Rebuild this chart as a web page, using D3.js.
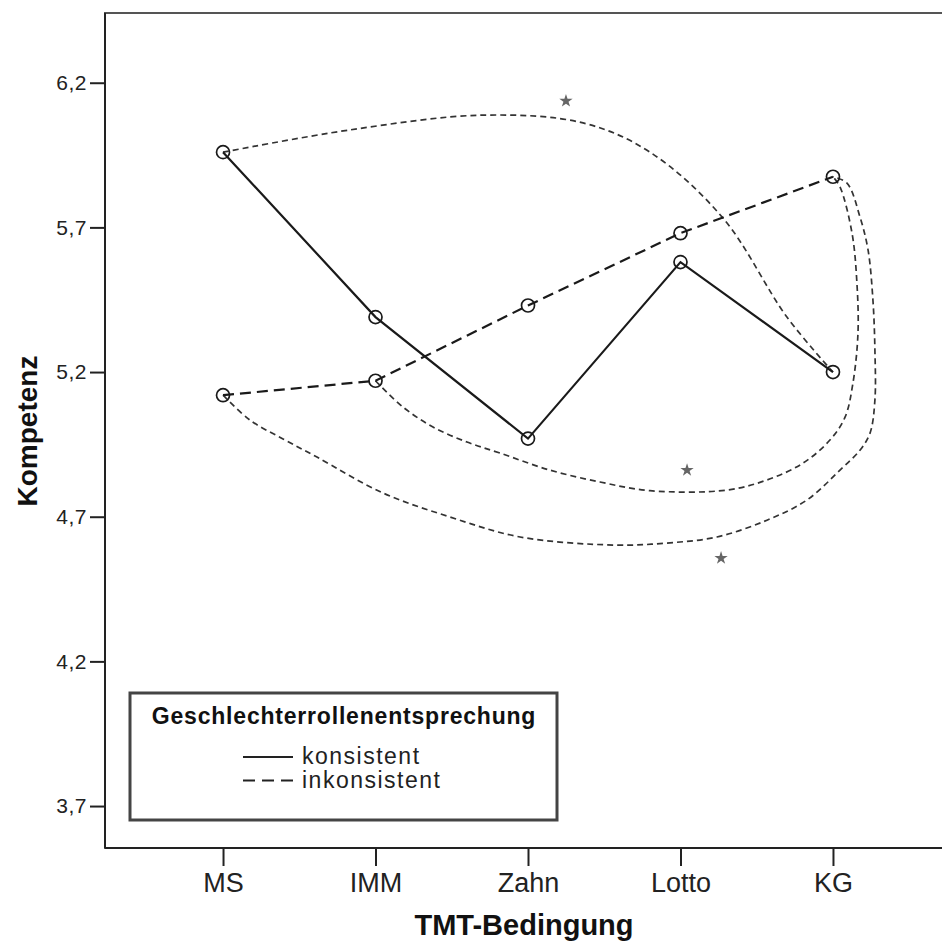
<!DOCTYPE html>
<html><head><meta charset="utf-8">
<script src="https://cdn.jsdelivr.net/npm/d3@7"></script>
<style>
html,body{margin:0;padding:0;background:#fff;}
text{font-family:"Liberation Sans",Arial,sans-serif;}
</style></head>
<body>
<svg id="chart" width="942" height="945"></svg>
<script>
// ---- data ----
const categories = ["MS", "IMM", "Zahn", "Lotto", "KG"];
const konsistent = [5.96, 5.39, 4.97, 5.58, 5.20];
const inkonsistent = [5.12, 5.17, 5.43, 5.68, 5.875];
const yTicks = [3.7, 4.2, 4.7, 5.2, 5.7, 6.2];
const seriesNames = ["konsistent", "inkonsistent"];
const legendTitle = "Geschlechterrollenentsprechung";
const xTitle = "TMT-Bedingung";
const yTitle = "Kompetenz";
// annotation curves: [category index, value]
const arcTop = [[0.833, 6.037], [1.705, 6.088], [2.361, 6.061], [2.800, 5.960], [3.279, 5.732], [3.698, 5.390]];
const arcInner = [[1.180, 5.079], [1.377, 5.010], [1.600, 4.958], [1.816, 4.920], [2.144, 4.861], [2.472, 4.820], [2.800, 4.790], [3.305, 4.792], [3.567, 4.827], [3.803, 4.885], [3.980, 4.965], [4.079, 5.044], [4.131, 5.162], [4.164, 5.335], [4.157, 5.508], [4.125, 5.680], [4.046, 5.840]];
const arcOuter = [[0.177, 5.034], [0.400, 4.967], [0.616, 4.906], [1.049, 4.782], [1.489, 4.699], [1.948, 4.630], [2.570, 4.602], [2.911, 4.609], [3.239, 4.630], [3.567, 4.688], [3.830, 4.758], [4.046, 4.861], [4.177, 4.930], [4.243, 4.989], [4.275, 5.103], [4.275, 5.276], [4.262, 5.449], [4.230, 5.622], [4.177, 5.736], [4.092, 5.853]];
const stars = [[2.249, 6.137], [3.043, 4.861], [3.266, 4.557]];

// ---- layout ----
const svg = d3.select("#chart");
const plot = {left: 105, right: 951, top: 13, bottom: 848};
const x = d3.scalePoint().domain(categories).range([plot.left, plot.right]).padding(0.774);
const y = d3.scaleLinear().domain([3.555, 6.441]).range([plot.bottom, plot.top]);
const xi = i => x(categories[0]) + i * x.step();

// frame
svg.append("rect").attr("x", plot.left).attr("y", plot.top)
  .attr("width", plot.right - plot.left).attr("height", plot.bottom - plot.top)
  .attr("fill", "none").attr("stroke", "#555").attr("stroke-width", 2);

// y axis
const yAxis = svg.append("g").attr("transform", `translate(${plot.left},0)`)
  .call(d3.axisLeft(y).tickValues(yTicks).tickSize(15).tickPadding(3)
    .tickFormat(d => d3.format(".1f")(d).replace(".", ",")));
yAxis.select(".domain").attr("stroke", "#222").attr("stroke-width", 2).attr("d", `M0,${plot.top}V${plot.bottom}`);
yAxis.selectAll(".tick line").attr("stroke", "#222").attr("stroke-width", 2);
yAxis.selectAll(".tick text").attr("font-size", 21).attr("fill", "#222")
  .attr("font-family", "Liberation Sans, Arial, sans-serif").attr("letter-spacing", 0.5);

// x axis
const xAxis = svg.append("g").attr("transform", `translate(0,${plot.bottom})`)
  .call(d3.axisBottom(x).tickSize(18).tickPadding(7));
xAxis.select(".domain").attr("stroke", "#222").attr("stroke-width", 2).attr("d", `M${plot.left},0H${plot.right}`);
xAxis.selectAll(".tick line").attr("stroke", "#222").attr("stroke-width", 2);
xAxis.selectAll(".tick text").attr("font-size", 27).attr("fill", "#222")
  .attr("font-family", "Liberation Sans, Arial, sans-serif");

// axis titles
svg.append("text").attr("x", 524).attr("y", 935).attr("text-anchor", "middle")
  .attr("font-size", 29).attr("font-weight", "bold").attr("fill", "#111").text(xTitle);
svg.append("text").attr("transform", "translate(37,431) rotate(-90)").attr("text-anchor", "middle")
  .attr("font-size", 28).attr("font-weight", "bold").attr("fill", "#111").text(yTitle);

// annotation curves
const curve = d3.line().x(d => xi(d[0])).y(d => y(d[1])).curve(d3.curveCatmullRom.alpha(0.5));
const ann = [
  [[0, konsistent[0]], ...arcTop, [4, konsistent[4]]],
  [[1, inkonsistent[1]], ...arcInner, [4, inkonsistent[4]]],
  [[0, inkonsistent[0]], ...arcOuter, [4, inkonsistent[4]]]
];
svg.append("g").selectAll("path").data(ann).join("path")
  .attr("d", curve).attr("fill", "none").attr("stroke", "#333")
  .attr("stroke-width", 1.7).attr("stroke-dasharray", "6,4");

svg.append("g").selectAll("path").data(stars).join("path")
  .attr("transform", d => `translate(${xi(d[0])},${y(d[1])})`)
  .attr("d", d3.symbol(d3.symbolStar).size(55)).attr("fill", "#666");

// series
const line = d3.line().x((d, i) => x(categories[i])).y(d => y(d));
const series = [
  {name: seriesNames[0], values: konsistent, dash: null},
  {name: seriesNames[1], values: inkonsistent, dash: "11,6"}
];
series.forEach(s => {
  svg.append("path").datum(s.values).attr("d", line).attr("fill", "none")
    .attr("stroke", "#1a1a1a").attr("stroke-width", 2.2)
    .attr("stroke-dasharray", s.dash);
  svg.append("g").selectAll("circle").data(s.values).join("circle")
    .attr("cx", (d, i) => x(categories[i])).attr("cy", d => y(d)).attr("r", 6.5)
    .attr("fill", "none").attr("stroke", "#1a1a1a").attr("stroke-width", 1.7);
});

// legend
const lg = svg.append("g");
lg.append("rect").attr("x", 130).attr("y", 693).attr("width", 427).attr("height", 127)
  .attr("fill", "#fff").attr("stroke", "#444").attr("stroke-width", 3);
lg.append("text").attr("x", 344).attr("y", 724).attr("text-anchor", "middle")
  .attr("font-size", 23).attr("font-weight", "bold").attr("letter-spacing", 0.8).attr("fill", "#111").text(legendTitle);
series.forEach((s, i) => {
  const yy = 757 + i * 23.5;
  lg.append("line").attr("x1", 243).attr("x2", 293).attr("y1", yy).attr("y2", yy)
    .attr("stroke", "#222").attr("stroke-width", 2.2).attr("stroke-dasharray", s.dash ? "12,7" : null);
  lg.append("text").attr("x", 302).attr("y", yy + 7).attr("font-size", 23)
    .attr("letter-spacing", 1.5).attr("fill", "#222").text(s.name);
});
</script>
</body></html>
